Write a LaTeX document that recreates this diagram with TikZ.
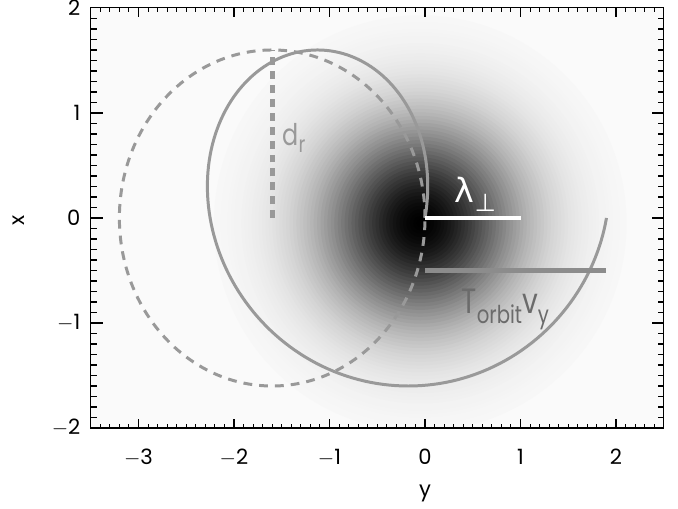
\documentclass[tikz,border=0pt]{standalone}
\usepackage{fontspec}
\setmainfont{Poppins}
\newfontfamily\narrowfont[FakeStretch=0.8]{Poppins}
\newfontfamily\greekfont{DejaVu Sans}
\definecolor{plotbg}{gray}{0.98}
\definecolor{orbitgray}{gray}{0.6}
\definecolor{driftgray}{gray}{0.55}
\definecolor{labelgray}{gray}{0.42}
\tikzset{
  orbit/.style={orbitgray, line width=1.7pt},
  guide/.style={orbitgray, line width=1.7pt, dash pattern=on 5pt off 4pt},
  radial/.style={orbitgray, line width=2.8pt, dash pattern=on 4.5pt off 3.4pt},
  bar/.style={line width=2.5pt},
  axisline/.style={black, line width=0.6pt},
  ticklabel/.style={inner sep=0pt, font=\fontsize{12}{12}\selectfont},
  textlabel/.style={inner sep=0pt, anchor=base west},
}
\begin{document}
\begin{tikzpicture}[x=1.91cm, y=2.1cm]
\useasboundingbox (-4.450,-2.762) rectangle (2.649,2.076);
\fill[white] (-4.450,-2.762) rectangle (2.649,2.076);
\fill[plotbg] (-3.5,-2) rectangle (2.5,2);
% density of the guiding centres
\begin{scope}
  \clip (-3.5,-2) rectangle (2.5,2);
  \foreach \k in {60,...,1}{
    \pgfmathsetmacro\s{\k/20}
    \pgfmathsetmacro\lev{100*exp(-\s*\s/2)}
    \fill[black!\lev!plotbg] (-0.05,-0.05) ellipse [x radius=0.72*\s, y radius=0.66*\s];
  }
\end{scope}
\coordinate (O) at (0,0);
\coordinate (gc) at (-1.6,0);
\coordinate (gctop) at (-1.6,1.6);
\coordinate (lam) at (1,0);
\coordinate (drift0) at (0,-0.5);
\coordinate (drift1) at (1.9,-0.5);
% orbit and its guiding circle
\draw[orbit] plot[domain=0:360, samples=181, variable=\t]
  ({-1.6+1.6*cos(\t)+1.9*\t/360},{1.6*sin(\t)});
\draw[guide] (gc) circle (1.6);
\draw[radial] (gc) -- (gctop);
\draw[bar, white] (O) -- (lam);
\draw[bar, driftgray] (drift0) -- (drift1);
\node[textlabel, text=orbitgray] (dr) at (-1.497,0.695)
  {\narrowfont\fontsize{17}{17}\selectfont d\raisebox{-4.5pt}{\fontsize{13}{13}\selectfont r}};
\node[textlabel, text=white] (lamlab) at (0.31,0.143)
  {\greekfont\fontsize{19}{19}\selectfont λ\raisebox{-5pt}{\fontsize{14}{14}\selectfont ⊥}};
\node[textlabel, text=labelgray] (tlab) at (0.38,-0.905)
  {\narrowfont\fontsize{20}{20}\selectfont T\raisebox{-5.7pt}{\fontsize{14}{14}\selectfont orbit}v\raisebox{-5.7pt}{\fontsize{14}{14}\selectfont y}};
% frame and ticks
\draw[axisline] (-3.5,-2) rectangle (2.5,2);
\foreach \i in {-34,...,24}{
  \pgfmathsetmacro\tl{ifthenelse(mod(\i,10)==0,0.18,0.09)}
  \draw[axisline] (\i/10,-2) -- ++(0,\tl cm) (\i/10,2) -- ++(0,-\tl cm);
}
\foreach \i in {-19,...,19}{
  \pgfmathsetmacro\tl{ifthenelse(mod(\i,10)==0,0.24,0.12)}
  \draw[axisline] (-3.5,\i/10) -- ++(\tl cm,0) (2.5,\i/10) -- ++(-\tl cm,0);
}
\foreach \v/\s in {-3/$-$3, -2/$-$2, -1/$-$1, 0/0, 1/1, 2/2}
  \node[ticklabel, anchor=north, yshift=-0.42cm] (xt\v) at (\v,-2) {\s};
\foreach \v/\s in {-2/$-$2, -1/$-$1, 0/0, 1/1, 2/2}
  \node[ticklabel, anchor=east, xshift=-0.2cm] (yt\v) at (-3.5,\v) {\s};
\node[ticklabel, anchor=base] (ylab) at (0,-2.657) {y};
\node[ticklabel, rotate=90] (xlab) at (-4.251,-0.019) {x};
\end{tikzpicture}
\end{document}
